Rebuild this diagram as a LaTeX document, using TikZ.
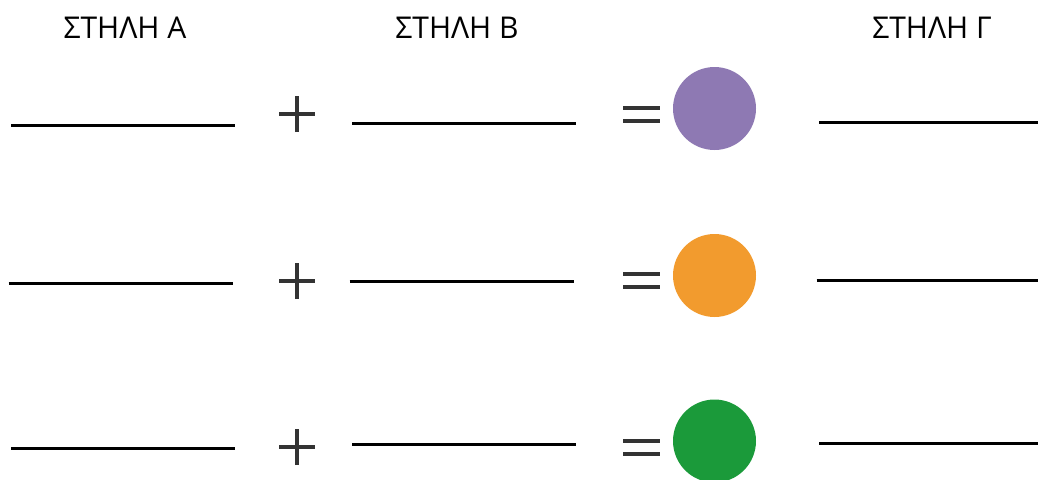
\documentclass[tikz,border=0pt]{standalone}
\usepackage{fontspec}
\setmainfont{Open Sans}
\definecolor{cpurple}{HTML}{8E79B3}
\definecolor{corange}{HTML}{F29B2E}
\definecolor{cgreen}{HTML}{1B9A3A}
\definecolor{sym}{HTML}{333333}
\begin{document}
\begin{tikzpicture}[x=1pt,y=-1pt,
  header/.style={anchor=base,inner sep=0pt,font=\fontsize{30}{36}\selectfont},
  blank/.style={line width=3pt,black},
  opstroke/.style={line width=4.2pt,sym},
  dot/.style={circle,inner sep=0pt,minimum size=83pt}]
\useasboundingbox (0,0) rectangle (1038,479);
\node[header] (hA) at (125,38) {ΣΤΗΛΗ Α};
\node[header] (hB) at (457,38) {ΣΤΗΛΗ Β};
\node[header] (hC) at (932,38) {ΣΤΗΛΗ Γ};
% rows: x shift, y of line A, plus center, line B, equals center, circle center, line C
\foreach \r/\dx/\ya/\yp/\yb/\ye/\yc/\yl/\col in {1/0/125/114/123/114.5/108.5/122/cpurple,
                                              2/-2.5/283/281/281/280.5/275.5/280/corange,
                                              3/0/448/447/444/447.5/441/443/cgreen}{
  \coordinate (a\r s) at (11+\dx,\ya); \coordinate (a\r e) at (235+\dx,\ya);
  \coordinate (b\r s) at (352+\dx,\yb); \coordinate (b\r e) at (576+\dx,\yb);
  \coordinate (c\r s) at (819+\dx,\yl); \coordinate (c\r e) at (1038,\yl);
  \draw[blank] (a\r s) -- (a\r e);
  \draw[blank] (b\r s) -- (b\r e);
  \draw[blank] (c\r s) -- (c\r e);
  \coordinate (p\r) at (297,\yp);
  \draw[opstroke] ([xshift=-18pt]p\r) -- ([xshift=18pt]p\r);
  \draw[opstroke] ([yshift=-18pt]p\r) -- ([yshift=18pt]p\r);
  \coordinate (e\r) at (641.5,\ye);
  \draw[opstroke] ([xshift=-18.5pt,yshift=-6.5pt]e\r) -- ([xshift=18.5pt,yshift=-6.5pt]e\r);
  \draw[opstroke] ([xshift=-18.5pt,yshift=6.5pt]e\r) -- ([xshift=18.5pt,yshift=6.5pt]e\r);
  \node[dot,fill=\col] (d\r) at (714.5,\yc) {};
}
\end{tikzpicture}
\end{document}
